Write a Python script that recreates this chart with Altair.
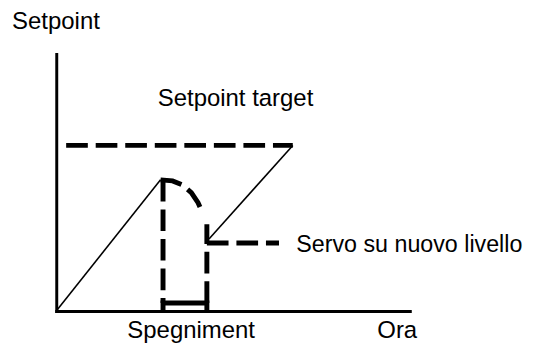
import altair as alt
import pandas as pd

# Chart units: time 0-100 (x), setpoint 0-100 (y)
ramp_x = [0, 29.5]
ramp_y = [0, 51.0]
target_x = [2.8, 66.9]
target_y = [64.4, 64.4]
arc_x = [29.5, 32.9, 35.7, 38.2, 40.1, 41.5]
arc_y = [51.0, 50.6, 49.0, 46.0, 42.1, 37.9]
off_left_x = [30.2, 30.2]
off_left_y = [51.0, 3.1]
off_right_x = [42.6, 42.6]
off_right_y = [3.1, 33.7]
bracket_x = [30.2, 30.2, 42.6, 42.6]
bracket_y = [0, 3.1, 3.1, 0]
servo_x = [42.6, 63.0]
servo_y = [26.4, 26.4]
recover_x = [43.2, 66.9]
recover_y = [28.0, 64.4]

labels = ["Setpoint", "Setpoint target", "Spegniment", "Ora"]
label_x = [-12.5, 28.7, 20.1, 90.8]
label_y = [109.6, 79.7, -10.7, -10.7]
servo_label = ["Servo su nuovo livello"]
servo_label_x = [67.9]
servo_label_y = [23.0]


def seg(name, xs, ys):
    return pd.DataFrame({"x": xs, "y": ys, "seg": name, "ord": list(range(len(xs)))})


dashed_df = pd.concat([
    seg("target", target_x, target_y),
    seg("arc", arc_x, arc_y),
    seg("off_left", off_left_x, off_left_y),
    seg("off_right", off_right_x, off_right_y),
    seg("servo", servo_x, servo_y),
], ignore_index=True)
thin_df = pd.concat([
    seg("ramp", ramp_x, ramp_y),
    seg("recover", recover_x, recover_y),
], ignore_index=True)
solid_df = seg("bracket", bracket_x, bracket_y)
text_df = pd.DataFrame({"label": labels, "x": label_x, "y": label_y})
servo_df = pd.DataFrame({"label": servo_label, "x": servo_label_x, "y": servo_label_y})

ax = alt.Axis(title="", labels=False, ticks=False, grid=False,
              domainWidth=3, domainColor="black", domainCap="square")
X = alt.X("x:Q", scale=alt.Scale(domain=[0, 100], nice=False, zero=False), axis=ax)
Y = alt.Y("y:Q", scale=alt.Scale(domain=[0, 100], nice=False, zero=False), axis=ax)

dashed = alt.Chart(dashed_df).mark_line(
    color="black", strokeWidth=5, strokeDash=[22, 8], strokeCap="butt"
).encode(x=X, y=Y, detail="seg:N", order="ord:Q")

thin = alt.Chart(thin_df).mark_line(
    color="black", strokeWidth=1.6
).encode(x=X, y=Y, detail="seg:N", order="ord:Q")

solid = alt.Chart(solid_df).mark_line(
    color="black", strokeWidth=5, strokeCap="butt", strokeJoin="miter"
).encode(x=X, y=Y, detail="seg:N", order="ord:Q")

text = alt.Chart(text_df).mark_text(
    align="left", baseline="alphabetic", font="Liberation Sans",
    fontSize=24.3, color="black"
).encode(x=X, y=Y, text="label:N")

servo_text = alt.Chart(servo_df).mark_text(
    align="left", baseline="alphabetic", font="Liberation Sans",
    fontSize=23.6, color="black"
).encode(x=X, y=Y, text="label:N")

chart = alt.layer(thin, dashed, solid, text, servo_text).properties(
    width=359, height=261,
    autosize=alt.AutoSizeParams(type="none"),
    padding={"left": 49, "top": 44, "right": 119, "bottom": 34},
    background="white",
).configure_view(stroke="transparent")

chart.save("out.html", embed_options={"renderer": "svg", "actions": False})
